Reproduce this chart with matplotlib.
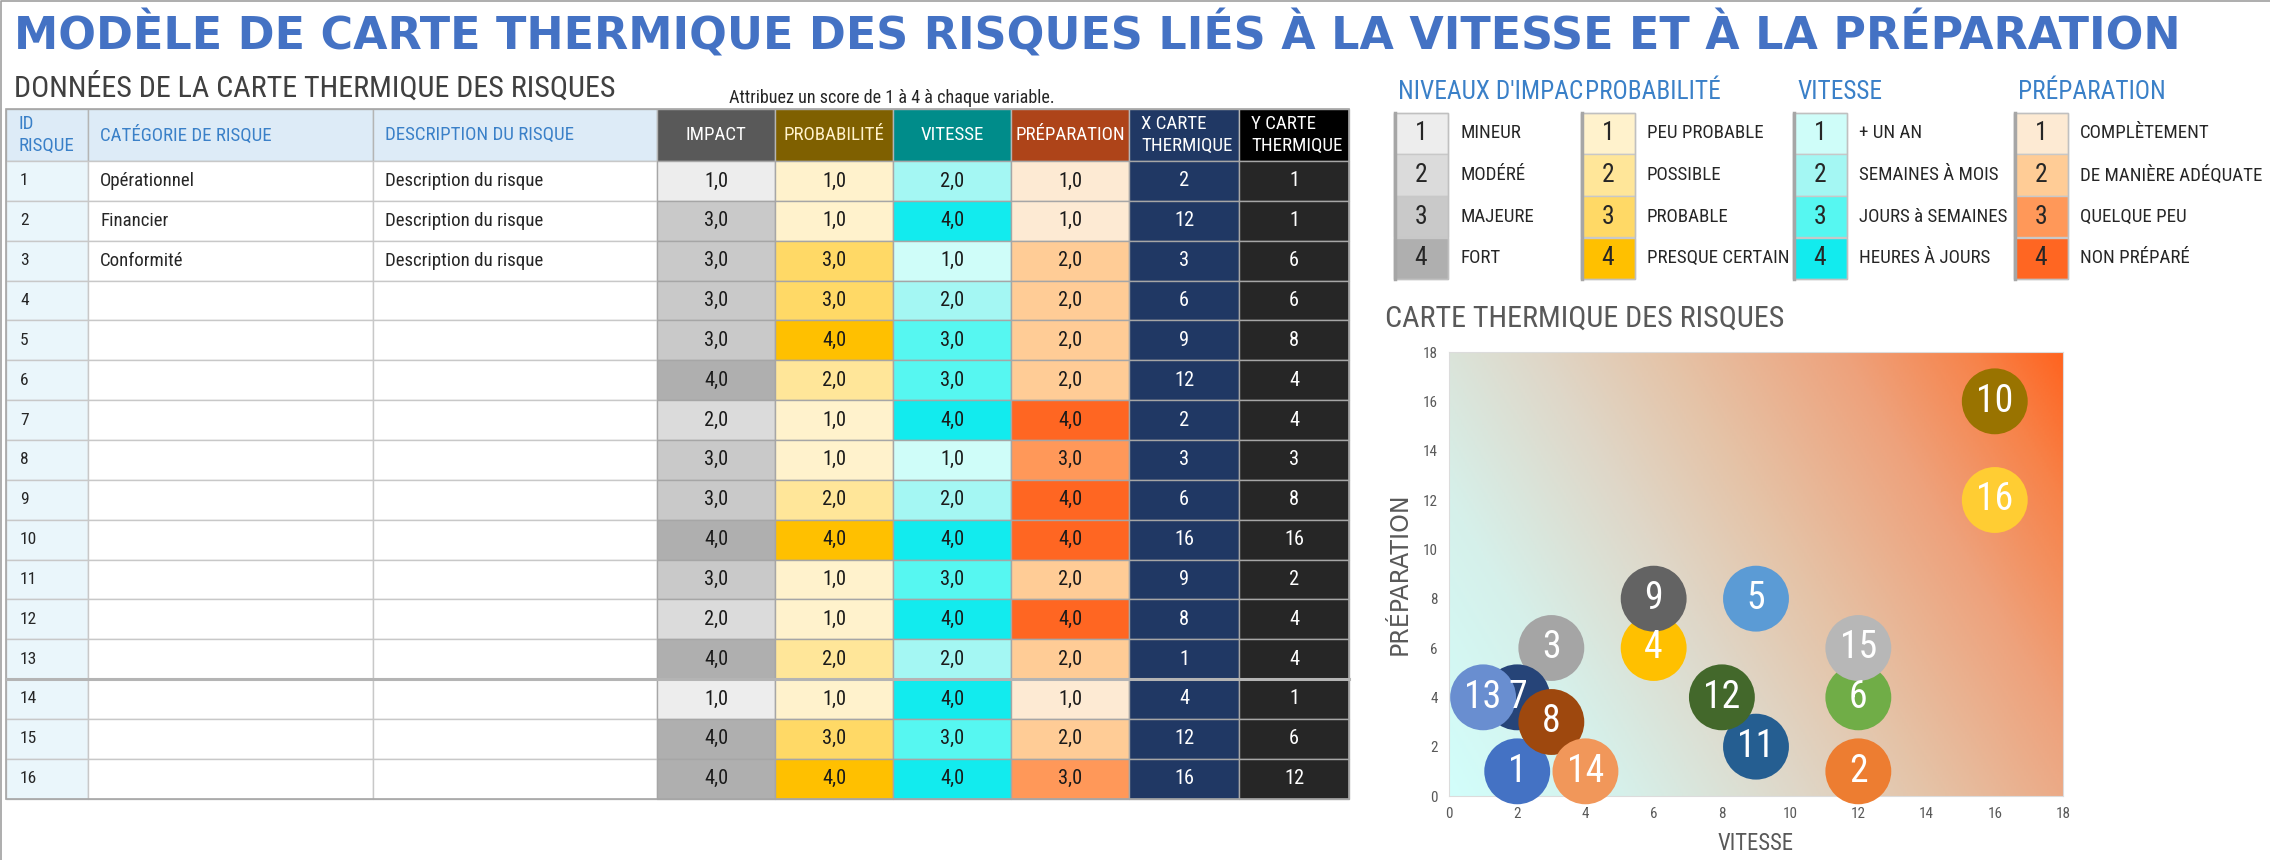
import numpy as np
import matplotlib
matplotlib.use("Agg")
from matplotlib import pyplot as plt
from matplotlib import font_manager
from matplotlib.patches import Rectangle
from matplotlib.colors import LinearSegmentedColormap

################################################################################
#                     Risk heat map : speed and preparation                    #
################################################################################

########## data ##########
risk_ids = list(range(1, 17))
categories = ["Opérationnel", "Financier", "Conformité"] + [""] * 13
descriptions = ["Description du risque"] * 3 + [""] * 13
impact = [1, 3, 3, 3, 3, 4, 2, 3, 3, 4, 3, 2, 4, 1, 4, 4]
probability = [1, 1, 3, 3, 4, 2, 1, 1, 2, 4, 1, 1, 2, 1, 3, 4]
speed = [2, 4, 1, 2, 3, 3, 4, 1, 2, 4, 3, 4, 2, 4, 3, 4]
preparation = [1, 1, 2, 2, 2, 2, 4, 3, 4, 4, 2, 4, 2, 1, 2, 3]
heat_x = [2, 12, 3, 6, 9, 12, 2, 3, 6, 16, 9, 8, 1, 4, 12, 16]
heat_y = [1, 1, 6, 6, 8, 4, 4, 3, 8, 16, 2, 4, 4, 1, 6, 12]

header_labels = ["ID\nRISQUE", "CATÉGORIE DE RISQUE", "DESCRIPTION DU RISQUE",
                 "IMPACT", "PROBABILITÉ", "VITESSE", "PRÉPARATION",
                 "X CARTE\nTHERMIQUE", "Y CARTE\nTHERMIQUE"]

legend_titles = ["NIVEAUX D'IMPAC", "PROBABILITÉ", "VITESSE", "PRÉPARATION"]
impact_levels = ["MINEUR", "MODÉRÉ", "MAJEURE", "FORT"]
prob_levels = ["PEU PROBABLE", "POSSIBLE", "PROBABLE", "PRESQUE CERTAIN"]
speed_levels = ["+ UN AN", "SEMAINES À MOIS", "JOURS à SEMAINES", "HEURES À JOURS"]
prep_levels = ["COMPLÈTEMENT", "DE MANIÈRE ADÉQUATE", "QUELQUE PEU", "NON PRÉPARÉ"]
axis_ticks = list(range(0, 19, 2))

########## colours ##########
impact_pal = ["#EDEDED", "#DBDBDB", "#C9C9C9", "#AFAFAF"]
prob_pal = ["#FFF2CC", "#FFE699", "#FFD966", "#FFC000"]
speed_pal = ["#CFFDF9", "#A4F7F3", "#56F7F1", "#12EBEE"]
prep_pal = ["#FDEAD3", "#FFCC96", "#FF9859", "#FF6622"]
bubble_colors = ["#4472C4", "#ED7D31", "#A5A5A5", "#FFC000", "#5B9BD5", "#70AD47",
                 "#264478", "#9E480E", "#636363", "#997300", "#255E91", "#43682B",
                 "#698ED0", "#F1975A", "#B7B7B7", "#FFCD33"]
header_bg = ["#DDEBF7"] * 3 + ["#595959", "#7F6000", "#008C8A", "#AE4419", "#203864", "#000000"]
header_fg = ["#3A80C8"] * 3 + ["white", "#FFF2CC", "white", "white", "white", "white"]
BLUE = "#4472C4"
GREY = "#595959"
DARK = "#262626"


########## pick_narrow ##########
# Return : font properties of a condensed sans font if one is installed,
#          Liberation Sans otherwise
def pick_narrow():
    fonts = font_manager.fontManager.ttflist
    regular = lambda f: f.style == "normal" and f.weight in (400, "normal", "regular", "book")
    for name in ["Liberation Sans Narrow", "Roboto Condensed", "Open Sans Condensed",
                 "Noto Sans Condensed", "DejaVu Sans Condensed"]:
        for f in fonts:
            if f.name == name and regular(f):
                return font_manager.FontProperties(fname=f.fname)
    for f in fonts:
        if f.stretch in ("condensed", "semi-condensed") and regular(f) and \
                f.name in ("Noto Sans", "DejaVu Sans", "Open Sans", "Roboto"):
            return font_manager.FontProperties(fname=f.fname)
    return font_manager.FontProperties(family="Liberation Sans")


NARROW = pick_narrow()

fig = plt.figure(figsize=(22.7, 8.6), dpi=100)
ax0 = fig.add_axes([0, 0, 1, 1])
ax0.set_xlim(0, 2270)
ax0.set_ylim(860, 0)
ax0.axis("off")


########## txt ##########
# writes a text in the narrow font, in pixel coordinates of the page
def txt(x, y, s, size, **kw):
    return ax0.text(x, y, s, fontproperties=NARROW, fontsize=size * K, **kw)


# page border (left and top)
ax0.plot([1, 1, 2270], [860, 1, 1], color="#A0A0A0", lw=1.2)

########## titles ##########
title = ax0.text(14, 50, "MODÈLE DE CARTE THERMIQUE DES RISQUES LIÉS À LA VITESSE ET À LA PRÉPARATION",
                 fontsize=32, fontweight="bold", color=BLUE, family="DejaVu Sans",
                 ha="left", va="baseline")
sub = ax0.text(14, 97, "DONNÉES DE LA CARTE THERMIQUE DES RISQUES", fontproperties=NARROW,
               fontsize=20, color="#404040", ha="left", va="baseline")
fig.canvas.draw()
w = title.get_window_extent().width
title.set_fontsize(32 * 2168 / w)
# scale of the narrow font so that the subtitle is as wide as in the template
K = 603 / sub.get_window_extent().width
sub.set_fontsize(20 * K)

txt(892, 98, "Attribuez un score de 1 à 4 à chaque variable.", 12,
    color=DARK, ha="center", va="center")

########## table ##########
col_edges = [6, 88, 373, 657, 775, 893, 1011, 1129, 1239, 1349]
head_top, head_bot = 109, 161
row_h = 39.85

for c, lab in enumerate(header_labels):
    x0, x1 = col_edges[c], col_edges[c + 1]
    ax0.add_patch(Rectangle((x0, head_top), x1 - x0, head_bot - head_top,
                            facecolor=header_bg[c], edgecolor="#B4B4B4", lw=1))
    ym = (head_top + head_bot) / 2
    if c in (3, 4, 5, 6):
        txt((x0 + x1) / 2, ym, lab, 12.5, ha="center", va="center", color=header_fg[c])
    else:
        txt(x0 + 12, ym, lab, 12.5, ha="left", va="center", color=header_fg[c],
            linespacing=1.35)

score_cols = [(impact, impact_pal), (probability, prob_pal), (speed, speed_pal), (preparation, prep_pal)]

for r in range(len(risk_ids)):
    y0 = head_bot + r * row_h
    ym = y0 + row_h / 2
    # text columns
    bgs = ["#EAF6FB", "white", "white"]
    txts = [str(risk_ids[r]), categories[r], descriptions[r]]
    for c in range(3):
        x0, x1 = col_edges[c], col_edges[c + 1]
        ax0.add_patch(Rectangle((x0, y0), x1 - x0, row_h, facecolor=bgs[c],
                                edgecolor="#C8C8C8", lw=1))
        txt(x0 + (14 if c == 0 else 12), ym, txts[c], 12.5 if c else 11.5,
            ha="left", va="center", color=DARK)
    # score columns
    for k, (vals, pal) in enumerate(score_cols):
        x0, x1 = col_edges[3 + k], col_edges[4 + k]
        v = vals[r]
        ax0.add_patch(Rectangle((x0, y0), x1 - x0, row_h, facecolor=pal[v - 1],
                                edgecolor="#A6A6A6", lw=1))
        txt((x0 + x1) / 2, ym, f"{v:.1f}".replace(".", ","), 13.5,
            ha="center", va="center", color="#1A1A1A")
    # heat map coordinates
    for k, (vals, bg) in enumerate([(heat_x, "#203864"), (heat_y, "#262626")]):
        x0, x1 = col_edges[7 + k], col_edges[8 + k]
        ax0.add_patch(Rectangle((x0, y0), x1 - x0, row_h, facecolor=bg,
                                edgecolor="#A6A6A6", lw=1))
        txt((x0 + x1) / 2, ym, str(vals[r]), 13.5, ha="center", va="center", color="white")

# thicker rule between rows 13 and 14
y_rule = head_bot + 13 * row_h
ax0.plot([col_edges[0], col_edges[-1]], [y_rule, y_rule], color="#B4B4B4", lw=2.2, zorder=5)

table_bottom = head_bot + len(risk_ids) * row_h
ax0.add_patch(Rectangle((col_edges[0], head_top), col_edges[-1] - col_edges[0],
                        table_bottom - head_top, fill=False, edgecolor="#A6A6A6", lw=1.2))

########## legend ##########
leg_left = [1394, 1581, 1793, 2014]
box_w, box_top, box_h = 54, 112.7, 41.6
leg_sets = [(impact_levels, impact_pal), (prob_levels, prob_pal),
            (speed_levels, speed_pal), (prep_levels, prep_pal)]
for g, (levels, pal) in enumerate(leg_sets):
    x0 = leg_left[g]
    txt(x0 + 4, 92, legend_titles[g], 16.8, ha="left", va="center", color="#3A80C8")
    for i, lab in enumerate(levels):
        y0 = box_top + i * box_h
        ax0.add_patch(Rectangle((x0, y0), box_w, box_h, facecolor=pal[i],
                                edgecolor="#C8C8C8", lw=1))
        txt(x0 + box_w / 2, y0 + box_h / 2, str(i + 1), 17, ha="center", va="center",
            color=DARK)
        txt(x0 + box_w + 12, y0 + box_h / 2, lab, 12.5, ha="left", va="center", color=DARK)
    ax0.add_patch(Rectangle((x0, box_top), box_w, 4 * box_h, fill=False,
                            edgecolor="#C0C0C0", lw=1))
    ax0.plot([x0 + 1, x0 + 1], [box_top, box_top + 4 * box_h], color="#A6A6A6", lw=2.5)

########## scatter heat map ##########
txt(1385, 319, "CARTE THERMIQUE DES RISQUES", 20, ha="left", va="center", color=GREY)

ax = fig.add_axes([1449 / 2270, 1 - 796 / 860, 614 / 2270, 444 / 860])
ax.set_xlim(0, 18)
ax.set_ylim(0, 18)

grad = LinearSegmentedColormap.from_list("heat", [
    (0.0, "#D2FEFB"), (0.2, "#D6F0EA"), (0.4, "#DFD7C8"), (0.55, "#E5C3A7"),
    (0.75, "#EEA27C"), (0.9, "#F7834A"), (1.0, "#FF6420")])
u, v = np.meshgrid(np.linspace(0, 1, 300), np.linspace(0, 1, 300))
ax.imshow(0.7 * u + 0.3 * v, cmap=grad, vmin=0, vmax=1, origin="lower",
          extent=[0, 18, 0, 18], aspect="auto", zorder=0)

for i in range(len(risk_ids)):
    ax.scatter(heat_x[i], heat_y[i], s=2250, color=bubble_colors[i],
               edgecolors="none", zorder=3 + i, clip_on=False)
for i in range(len(risk_ids)):
    ax.text(heat_x[i], heat_y[i], str(risk_ids[i]), ha="center", va="center",
            fontproperties=NARROW, fontsize=25 * K, color="white", zorder=40)

ax.set_xticks(axis_ticks)
ax.set_yticks(axis_ticks)
ax.tick_params(length=0, labelcolor=GREY, pad=8)
for lab in ax.get_xticklabels() + ax.get_yticklabels():
    lab.set_fontproperties(NARROW)
    lab.set_fontsize(10 * K)
for s in ["top", "right", "left", "bottom"]:
    ax.spines[s].set_color("#DCDCDC")
ax.set_xlabel("VITESSE", fontproperties=NARROW, fontsize=15 * K, color=GREY, labelpad=8)
ax.set_ylabel("PRÉPARATION", fontsize=17, color=GREY, family="DejaVu Sans", labelpad=8)

plt.savefig("out.png", dpi=100)
